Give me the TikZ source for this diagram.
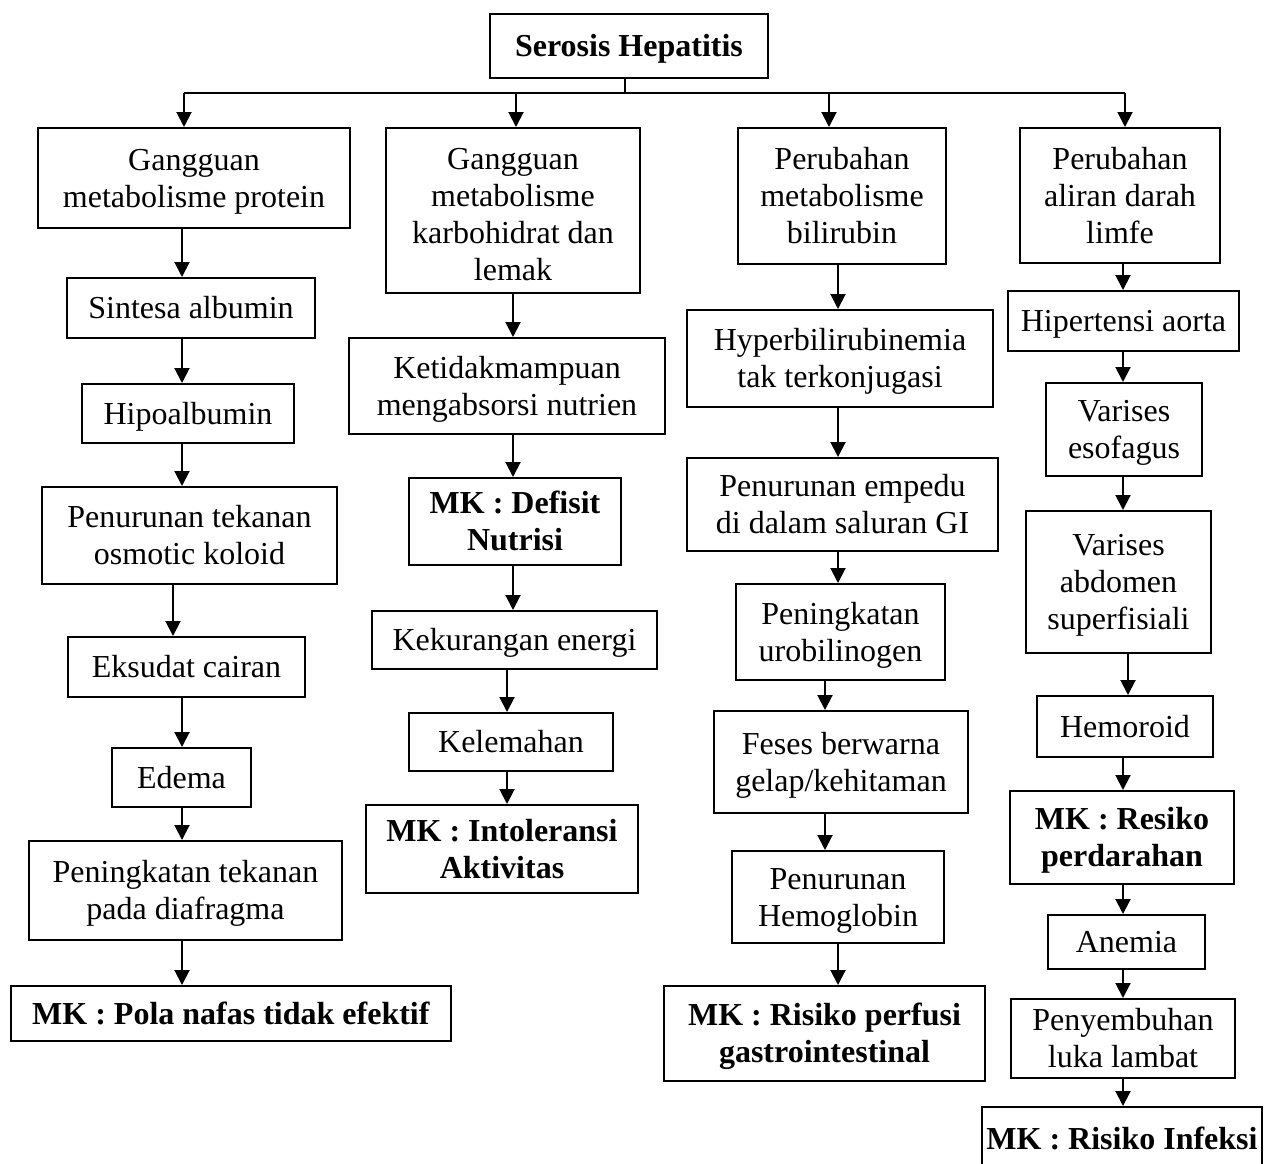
\documentclass[tikz,border=0pt]{standalone}
\usepackage{fontspec}
\setmainfont{Liberation Serif}
\usetikzlibrary{arrows.meta}
\tikzset{
  box/.style={draw, line width=1pt, inner sep=0pt, align=center,
    font=\fontsize{16}{18.5}\selectfont},
  arr/.style={line width=1pt, -{Triangle[width=7.5pt,length=7.5pt]}},
  plainline/.style={line width=1pt}
}
\newcommand{\bx}[7][1.75pt]{\node[box, minimum width={(#5-#3)*0.5pt}, minimum height={(#6-#4)*0.5pt}] (#2) at ({(#3+#5)/2},{(#4+#6)/2}) {\raisebox{-#1}[\height][\depth]{\begin{tabular}{@{}c@{}}#7\end{tabular}}};}
\newcommand{\conn}[3]{\draw[arr] (#1.south -| #3) -- (#2.north -| #3);}
\begin{document}
\begin{tikzpicture}[x=0.5pt,y=-0.5pt]
\clip (0,0) rectangle (1274,1163);
\fill[white] (0,0) rectangle (1274,1163);

% top
\bx{top}{490}{14}{768}{78}{\textbf{Serosis Hepatitis}}

% column 1
\bx{a1}{38}{128}{350}{228}{Gangguan\\metabolisme protein}
\bx{a2}{67}{278}{315}{338}{Sintesa albumin}
\bx{a3}{82}{384}{294}{443}{Hipoalbumin}
\bx{a4}{42}{487}{337}{584}{Penurunan tekanan\\osmotic koloid}
\bx{a5}{68}{637}{305}{697}{Eksudat cairan}
\bx{a6}{112}{748}{251}{807}{Edema}
\bx{a7}{29}{841}{342}{940}{Peningkatan tekanan\\pada diafragma}
\bx{a8}{11}{986}{451}{1041}{\textbf{MK : Pola nafas tidak efektif}}

% column 2
\bx[3.75pt]{b1}{386}{128}{640}{293}{Gangguan\\metabolisme\\karbohidrat dan\\lemak}
\bx{b2}{349}{338}{665}{434}{Ketidakmampuan\\mengabsorsi nutrien}
\bx{b3}{409}{478}{621}{565}{\textbf{MK : Defisit}\\\textbf{Nutrisi}}
\bx{b4}{372}{611}{657}{669}{Kekurangan energi}
\bx{b5}{409}{713}{613}{771}{Kelemahan}
\bx{b6}{366}{805}{638}{893}{\textbf{MK : Intoleransi}\\\textbf{Aktivitas}}

% column 3
\bx{c1}{738}{128}{946}{264}{Perubahan\\metabolisme\\bilirubin}
\bx{c2}{687}{310}{993}{407}{Hyperbilirubinemia\\tak terkonjugasi}
\bx{c3}{687}{458}{998}{551}{Penurunan empedu\\di dalam saluran GI}
\bx{c4}{736}{584}{945}{680}{Peningkatan\\urobilinogen}
\bx{c5}{714}{711}{968}{813}{Feses berwarna\\gelap/kehitaman}
\bx{c6}{732}{851}{944}{943}{Penurunan\\Hemoglobin}
\bx{c7}{664}{986}{985}{1081}{\textbf{MK : Risiko perfusi}\\\textbf{gastrointestinal}}

% column 4
\bx{d1}{1020}{128}{1220}{263}{Perubahan\\aliran darah\\limfe}
\bx{d2}{1008}{291}{1239}{351}{Hipertensi aorta}
\bx{d3}{1046}{383}{1202}{476}{Varises\\esofagus}
\bx{d4}{1026}{511}{1211}{653}{Varises\\abdomen\\superfisiali}
\bx{d5}{1037}{696}{1213}{757}{Hemoroid}
\bx{d6}{1010}{791}{1234}{884}{\textbf{MK : Resiko}\\\textbf{perdarahan}}
\bx{d7}{1048}{915}{1205}{969}{Anemia}
\bx{d8}{1011}{999}{1235}{1078}{Penyembuhan\\luka lambat}
\bx{d9}{982}{1107}{1262}{1170}{\textbf{MK : Risiko Infeksi}}

% arrow columns
\coordinate (xa) at (182,0);
\coordinate (xa2) at (173,0);
\coordinate (xb) at (513,0);
\coordinate (xb2) at (507,0);
\coordinate (xc) at (838,0);
\coordinate (xc2) at (825,0);
\coordinate (xd) at (1123,0);
\coordinate (xd2) at (1128,0);

% bus
\coordinate (busm) at (625,93);
\coordinate (bus1) at (184,93);
\coordinate (bus2) at (516,93);
\coordinate (bus3) at (829,93);
\coordinate (bus4) at (1125,93);
\draw[plainline] (top.south -| busm) -- (busm);
\draw[line width=1.3pt] (bus1) -- (bus4);
\draw[arr] (bus1) -- (a1.north -| bus1);
\draw[arr] (bus2) -- (b1.north -| bus2);
\draw[arr] (bus3) -- (c1.north -| bus3);
\draw[arr] (bus4) -- (d1.north -| bus4);

% column 1 arrows
\conn{a1}{a2}{xa}
\conn{a2}{a3}{xa}
\conn{a3}{a4}{xa}
\conn{a4}{a5}{xa2}
\conn{a5}{a6}{xa}
\conn{a6}{a7}{xa}
\conn{a7}{a8}{xa}

% column 2 arrows
\conn{b1}{b2}{xb}
\conn{b2}{b3}{xb}
\conn{b3}{b4}{xb}
\conn{b4}{b5}{xb2}
\conn{b5}{b6}{xb2}

% column 3 arrows
\conn{c1}{c2}{xc}
\conn{c2}{c3}{xc}
\conn{c3}{c4}{xc}
\conn{c4}{c5}{xc2}
\conn{c5}{c6}{xc2}
\conn{c6}{c7}{xc}

% column 4 arrows
\conn{d1}{d2}{xd}
\conn{d2}{d3}{xd}
\conn{d3}{d4}{xd}
\conn{d4}{d5}{xd2}
\conn{d5}{d6}{xd}
\conn{d6}{d7}{xd}
\conn{d7}{d8}{xd}
\conn{d8}{d9}{xd}
\end{tikzpicture}
\end{document}
